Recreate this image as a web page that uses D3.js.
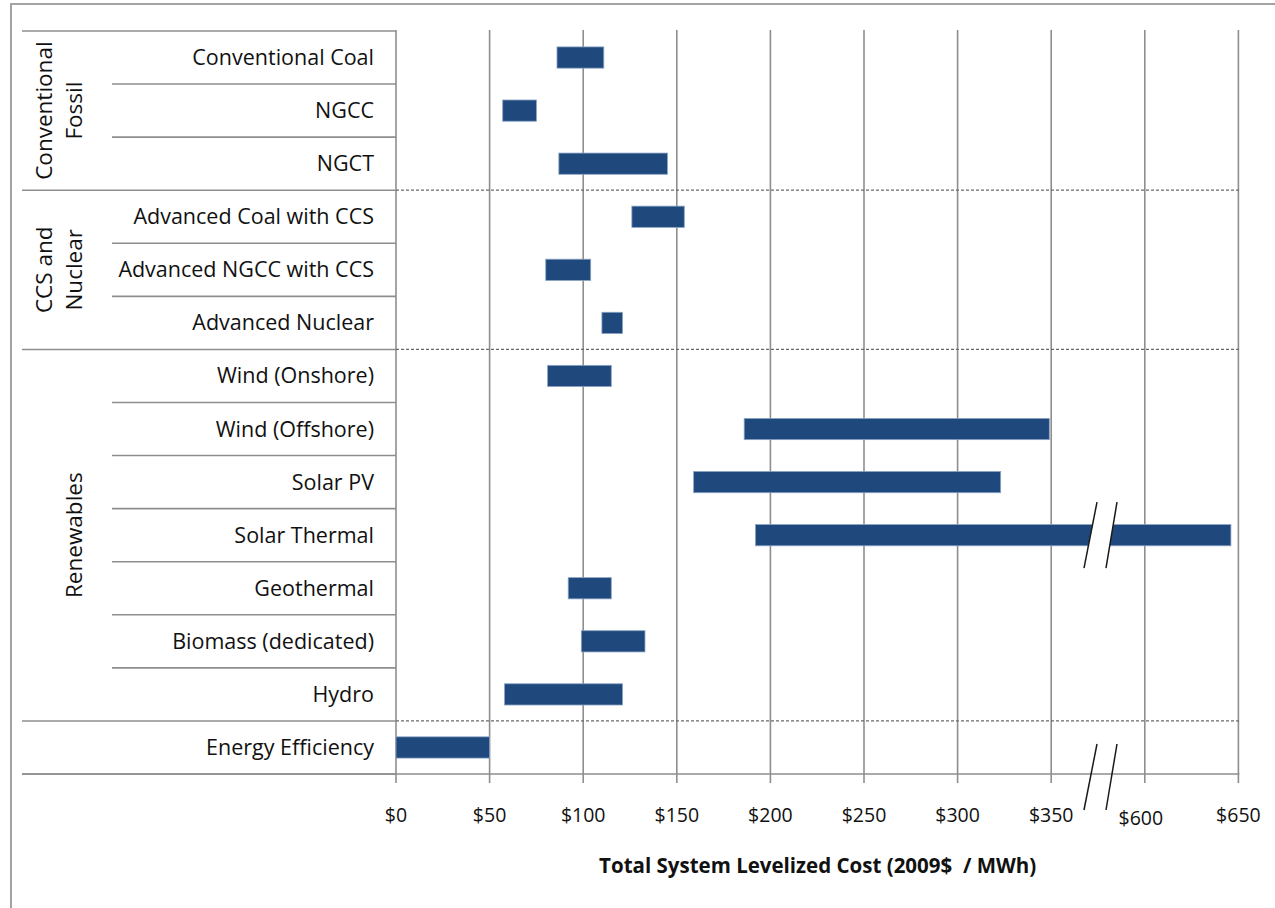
<!DOCTYPE html>
<html>
<head>
<meta charset="utf-8">
<script src="https://cdn.jsdelivr.net/npm/d3@7"></script>
<style>
  html, body { margin: 0; padding: 0; background: #fff; }
  svg text { font-family: "Open Sans", "Noto Sans", sans-serif; fill: #111; }
</style>
</head>
<body>
<svg id="chart" width="1275" height="908"></svg>
<script>
// Technology rows, top to bottom
const technologies = [
  "Conventional Coal", "NGCC", "NGCT",
  "Advanced Coal with CCS", "Advanced NGCC with CCS", "Advanced Nuclear",
  "Wind (Onshore)", "Wind (Offshore)", "Solar PV", "Solar Thermal",
  "Geothermal", "Biomass (dedicated)", "Hydro",
  "Energy Efficiency"
];
// Low and high end of the levelized cost range (2009$ / MWh)
const costLow  = [86, 57, 87, 126, 80, 110, 81, 186, 159, 192, 92, 99, 58, 0];
const costHigh = [111, 75, 145, 154, 104, 121, 115, 349, 323, 646, 115, 133, 121, 50];

// Technology groups: label lines, first row, last row
const groupLabels = [["Conventional", "Fossil"], ["CCS and", "Nuclear"], ["Renewables"], []];
const groupStart = [0, 3, 6, 13];
const groupEnd   = [2, 5, 12, 13];

// Axis ticks (broken between $350 and $600)
const tickValues = [0, 50, 100, 150, 200, 250, 300, 350, 600, 650];
const tickLabels = ["$0", "$50", "$100", "$150", "$200", "$250", "$300", "$350", "$600", "$650"];
const breakValue = 483;
const axisTitle = "Total System Levelized Cost (2009$\u00a0 / MWh)";

const data = technologies.map((t, i) => ({ name: t, low: costLow[i], high: costHigh[i] }));

const svg = d3.select("#chart");

// Layout
const plotLeft = 396, step = 93.6;
const plotTop = 31, plotBottom = 774;
const tableLeft = 22, rowLineLeft = 112;
const gridColor = "#8e8e8e";

// Piecewise scale: the $350-$600 span is squeezed into one tick step
const x = d3.scaleLinear()
  .domain([0, 350, 600, 650])
  .range([plotLeft, plotLeft + 7 * step, plotLeft + 8 * step, plotLeft + 9 * step]);
const plotRight = x(650) + 1;

const y = d3.scaleBand().domain(technologies).range([plotTop, plotBottom]).padding(0);
const barH = y.bandwidth() * 0.4;

// Outer frame
svg.append("path")
  .attr("d", "M11,908 V4 H1275")
  .attr("fill", "none").attr("stroke", "#a3a3a3").attr("stroke-width", 2);

// Vertical gridlines (extend below the axis as tick marks)
svg.append("g").selectAll("line")
  .data(tickValues).join("line")
  .attr("x1", d => x(d)).attr("x2", d => x(d))
  .attr("y1", 30).attr("y2", plotBottom + 9)
  .attr("stroke", gridColor).attr("stroke-width", 1.6);

// Row separators in the label table
const rowLines = [];
technologies.forEach((t, i) => {
  if (i === 0) return;
  if (!groupStart.includes(i)) rowLines.push(y(t));
});
svg.append("g").selectAll("line")
  .data(rowLines).join("line")
  .attr("x1", rowLineLeft).attr("x2", plotLeft)
  .attr("y1", d => d).attr("y2", d => d)
  .attr("stroke", gridColor).attr("stroke-width", 1.6);

// Group separators: solid in the table, dashed across the plot
const groupEdges = groupStart.slice(1).map(i => y(technologies[i]));
svg.append("g").selectAll("line")
  .data([plotTop, ...groupEdges, plotBottom]).join("line")
  .attr("x1", tableLeft).attr("x2", plotLeft)
  .attr("y1", d => d).attr("y2", d => d)
  .attr("stroke", gridColor).attr("stroke-width", 1.6);
svg.append("g").selectAll("line")
  .data(groupEdges).join("line")
  .attr("x1", plotLeft).attr("x2", plotRight)
  .attr("y1", d => d).attr("y2", d => d)
  .attr("stroke", "#6a6a6a").attr("stroke-width", 1.3)
  .attr("stroke-dasharray", "3,2");

// Bottom axis line
svg.append("line")
  .attr("x1", tableLeft).attr("x2", plotRight)
  .attr("y1", plotBottom).attr("y2", plotBottom)
  .attr("stroke", gridColor).attr("stroke-width", 1.6);

// Cost range bars
svg.append("g").selectAll("rect")
  .data(data).join("rect")
  .attr("x", d => x(d.low))
  .attr("width", d => x(d.high) - x(d.low))
  .attr("y", d => y(d.name) + (y.bandwidth() - barH) / 2)
  .attr("height", barH)
  .attr("fill", "#1f497d")
  .attr("stroke", "#8aa2c4").attr("stroke-width", 0.8);

// Technology labels
svg.append("g").selectAll("text")
  .data(technologies).join("text")
  .attr("x", 374)
  .attr("y", d => y(d) + y.bandwidth() / 2 + 7.5)
  .attr("text-anchor", "end")
  .attr("font-size", 21.5)
  .text(d => d);

// Group labels, rotated
groupLabels.forEach((lines, g) => {
  const cy = (y(technologies[groupStart[g]]) + y(technologies[groupEnd[g]]) + y.bandwidth()) / 2;
  const lineX = lines.length === 1 ? [82] : [52, 82];
  lines.forEach((ln, k) => {
    svg.append("text")
      .attr("transform", `translate(${lineX[k]},${cy}) rotate(-90)`)
      .attr("text-anchor", "middle")
      .attr("font-size", 22.5)
      .text(ln);
  });
});

// Tick labels ($600 sits a little lower)
svg.append("g").selectAll("text")
  .data(tickValues).join("text")
  .attr("x", d => x(d) - (d === 600 ? 4 : 0))
  .attr("y", d => d === 600 ? 825 : 822)
  .attr("text-anchor", "middle")
  .attr("font-size", 19.5)
  .text((d, i) => tickLabels[i]);

// Axis title
svg.append("text")
  .attr("x", (plotLeft + plotRight) / 2)
  .attr("y", 873)
  .attr("text-anchor", "middle")
  .attr("font-size", 20.5)
  .attr("font-weight", "bold")
  .text(axisTitle);

// Axis break marks: across the broken bar and across the axis
function breakMark(cy, halfH, gapFill) {
  const bx = x(breakValue);
  const dx = 6.5, gap = 10.5;
  const a = [bx - gap - dx, cy + halfH], b = [bx - gap + dx, cy - halfH];
  const c = [bx + gap - dx + 1, cy + halfH], d = [bx + gap + dx - 1, cy - halfH];
  if (gapFill) {
    svg.append("polygon")
      .attr("points", [a, b, d, c].map(p => p.join(",")).join(" "))
      .attr("fill", "#fff");
  }
  [[a, b], [c, d]].forEach(([p, q]) => {
    svg.append("line")
      .attr("x1", p[0]).attr("y1", p[1]).attr("x2", q[0]).attr("y2", q[1])
      .attr("stroke", "#1a1a1a").attr("stroke-width", 1.5);
  });
}
const brokenRow = technologies[costHigh.findIndex(v => v > 350)];
breakMark(y(brokenRow) + y.bandwidth() / 2, 33, true);
breakMark(plotBottom + 3, 33, false);
</script>
</body>
</html>
